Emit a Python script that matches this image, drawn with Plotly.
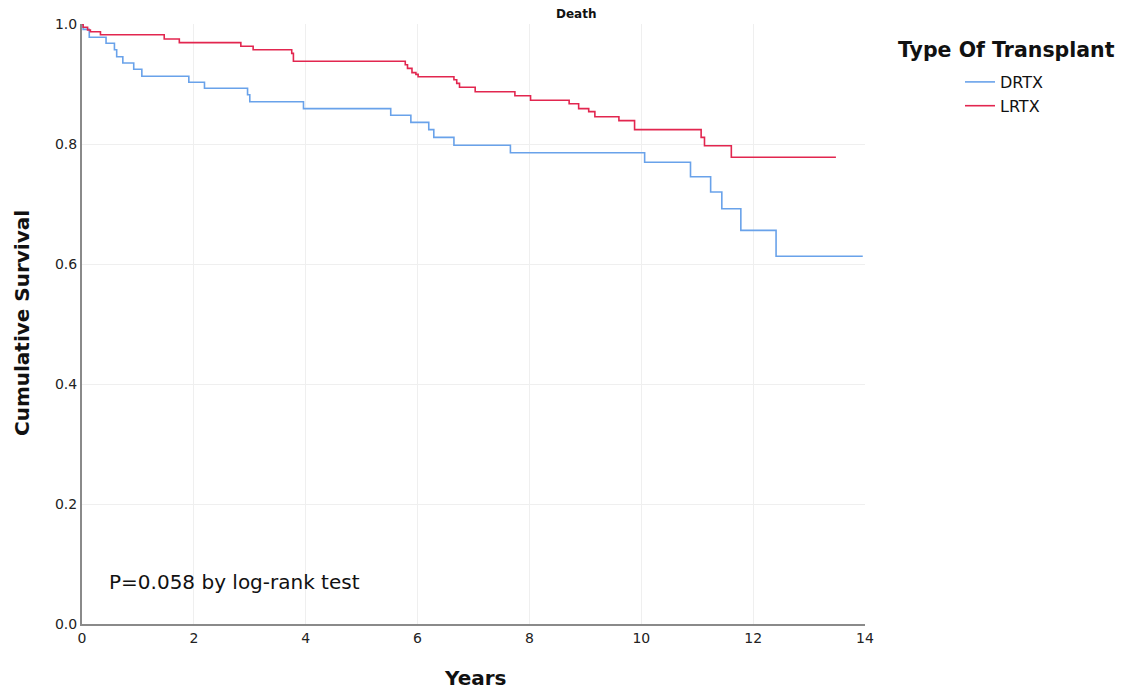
import plotly.graph_objects as go

# Kaplan-Meier step data
drtx_years = [0, 0.02, 0.13, 0.43, 0.58, 0.62, 0.73, 0.925, 1.07, 1.91, 2.19, 2.96, 3.0,
              3.96, 5.52, 5.88, 6.2, 6.29, 6.65, 7.66, 10.06, 10.88, 11.24, 11.44, 11.78,
              12.41, 13.96]
drtx_surv = [1.0, 0.991, 0.978, 0.968, 0.957, 0.9455, 0.935, 0.9245, 0.913, 0.903, 0.893,
             0.882, 0.8705, 0.859, 0.848, 0.836, 0.824, 0.811, 0.798, 0.7855, 0.7695,
             0.7455, 0.72, 0.692, 0.656, 0.613, 0.613]

lrtx_years = [0, 0.02, 0.10, 0.15, 0.33, 1.47, 1.74, 2.84, 3.06, 3.75, 3.78, 5.78, 5.82,
              5.90, 5.97, 6.01, 6.65, 6.70, 6.75, 7.03, 7.74, 8.02, 8.71, 8.88, 9.06, 9.17,
              9.60, 9.88, 11.07, 11.13, 11.61, 13.48]
lrtx_surv = [1.0, 0.9945, 0.99, 0.987, 0.982, 0.975, 0.969, 0.963, 0.957, 0.951, 0.938,
             0.932, 0.926, 0.919, 0.916, 0.912, 0.907, 0.901, 0.8945, 0.887, 0.8805, 0.873,
             0.867, 0.859, 0.854, 0.8455, 0.839, 0.824, 0.811, 0.797, 0.778, 0.778]

x_ticks = [0, 2, 4, 6, 8, 10, 12, 14]
y_ticks = [0.0, 0.2, 0.4, 0.6, 0.8, 1.0]

FONT = "DejaVu Sans"

fig = go.Figure()
fig.add_trace(go.Scatter(x=drtx_years, y=drtx_surv, mode="lines", name="DRTX",
                         line=dict(color="#69a2ea", width=1.6, shape="hv"),
                         cliponaxis=False))
fig.add_trace(go.Scatter(x=lrtx_years, y=lrtx_surv, mode="lines", name="LRTX",
                         line=dict(color="#e2264f", width=1.6, shape="hv"),
                         cliponaxis=False))

W, H = 1123, 693
L, R, T, B = 82, 258, 24, 69
PW, PH = W - L - R, H - T - B


def px_x(p):
    return (p - L) / PW


def px_y(p):
    return (H - B - p) / PH


fig.update_layout(
    width=W, height=H,
    margin=dict(l=L, r=R, t=T, b=B),
    plot_bgcolor="white", paper_bgcolor="white",
    font=dict(family=FONT, color="#222"),
    showlegend=True,
    legend=dict(x=px_x(960), y=px_y(65), xanchor="left", yanchor="top",
                font=dict(family=FONT, size=16, color="#111"),
                bgcolor="rgba(0,0,0,0)", tracegroupgap=0, itemwidth=30),
    xaxis=dict(range=[0, 14], tickvals=x_ticks, ticktext=[str(v) for v in x_ticks],
               showgrid=True, gridcolor="#efefef", gridwidth=1,
               showline=True, linecolor="#8a8a8a", linewidth=2, automargin=False,
               zeroline=False, ticks="", tickfont=dict(size=14, color="#222")),
    yaxis=dict(range=[0, 1.0], tickvals=y_ticks, ticktext=[f"{v:.1f}" for v in y_ticks],
               showgrid=True, gridcolor="#efefef", gridwidth=1,
               showline=True, linecolor="#8a8a8a", linewidth=2, automargin=False,
               zeroline=False, ticks="", tickfont=dict(size=14, color="#222")),
    annotations=[
        dict(text="<b>Death</b>", x=px_x(576), y=px_y(14),
             xref="paper", yref="paper", yanchor="middle",
             showarrow=False, font=dict(size=12, color="#111")),
        dict(text="P=0.058 by log-rank test", x=px_x(107), y=px_y(582),
             xref="paper", yref="paper", xanchor="left",
             yanchor="middle", showarrow=False, font=dict(size=20, color="#111")),
        dict(text="<b>Type Of Transplant</b>", x=px_x(896), y=px_y(50),
             xref="paper", yref="paper", xanchor="left", yanchor="middle",
             showarrow=False, font=dict(size=20.5, color="#111")),
        dict(text="<b>Years</b>", x=px_x(475), y=px_y(678),
             xref="paper", yref="paper", xanchor="center", yanchor="middle",
             showarrow=False, font=dict(size=20, color="#111")),
        dict(text="<b>Cumulative Survival</b>", x=px_x(22), y=px_y(323),
             xref="paper", yref="paper", xanchor="center", yanchor="middle",
             textangle=-90, showarrow=False, font=dict(size=20, color="#111")),
    ],
)

fig.write_html("out.html")
